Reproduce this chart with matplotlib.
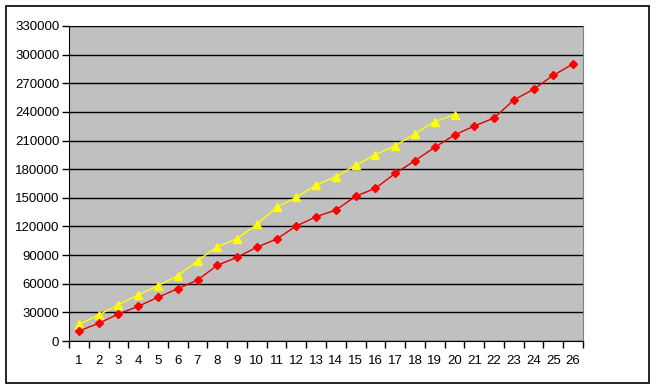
import numpy as np
import matplotlib.pyplot as plt
from matplotlib.patches import Rectangle

# Dados
categorias = list(range(1, 27))
serie_vermelha = [10500, 18500, 28300, 36300, 45800, 54800, 63900, 79300, 87700, 98200,
                  106800, 120500, 130200, 137200, 151600, 160000, 175600, 188900, 202900,
                  215800, 225200, 233600, 252500, 263700, 278400, 290200]
serie_amarela = [17500, 27200, 38000, 48500, 57900, 68400, 84100, 98800, 107200, 122200,
                 140000, 150500, 163400, 172100, 184000, 195200, 204600, 217200, 229800,
                 237100]
yticks = list(range(0, 330001, 30000))

plt.rcParams['font.family'] = ['Liberation Sans', 'DejaVu Sans']

fig = plt.figure(figsize=(6.56, 3.87), dpi=100)
W, H = 656, 387
ax = fig.add_axes([69 / W, 1 - 341 / H, (583 - 69) / W, (341 - 26) / H])

# Moldura externa
fig.patches.append(Rectangle((5.5 / W, 1 - 382.5 / H), 643 / W, 377 / H,
                             transform=fig.transFigure, fill=False,
                             edgecolor='black', linewidth=1.2))

ax.set_facecolor('#C0C0C0')
x_v = np.arange(len(serie_vermelha))
x_a = np.arange(len(serie_amarela))
ax.plot(x_a, serie_amarela, color='#FFFF00', linewidth=1, marker='^',
        markersize=5.5, zorder=3)
ax.plot(x_v, serie_vermelha, color='#E00000', linewidth=1, marker='D',
        markerfacecolor='#FF0000', markeredgecolor='#FF0000',
        markersize=4.2, zorder=4)

ax.set_xlim(-0.5, len(categorias) - 0.5)
ax.set_ylim(0, 330000)
ax.set_yticks(yticks)
ax.set_yticklabels([str(v) for v in yticks], fontsize=9.5)
ax.yaxis.grid(True, color='black', linewidth=1)
ax.set_axisbelow(True)

# Rótulos no centro, ticks nas divisões
ax.set_xticks(np.arange(len(categorias)))
ax.set_xticklabels([str(c) for c in categorias], fontsize=9.5)
ax.set_xticks(np.arange(len(categorias) + 1) - 0.5, minor=True)
ax.tick_params(axis='x', which='major', length=0, pad=10)
ax.tick_params(axis='x', which='minor', length=5, width=1, color='black', direction='out')
ax.tick_params(axis='y', length=5, width=1, direction='out', pad=2)

ax.spines['top'].set_visible(False)
ax.spines['right'].set_color('#808080')
ax.spines['left'].set_color('black')
ax.spines['bottom'].set_color('black')

fig.savefig('out.png', dpi=100)
